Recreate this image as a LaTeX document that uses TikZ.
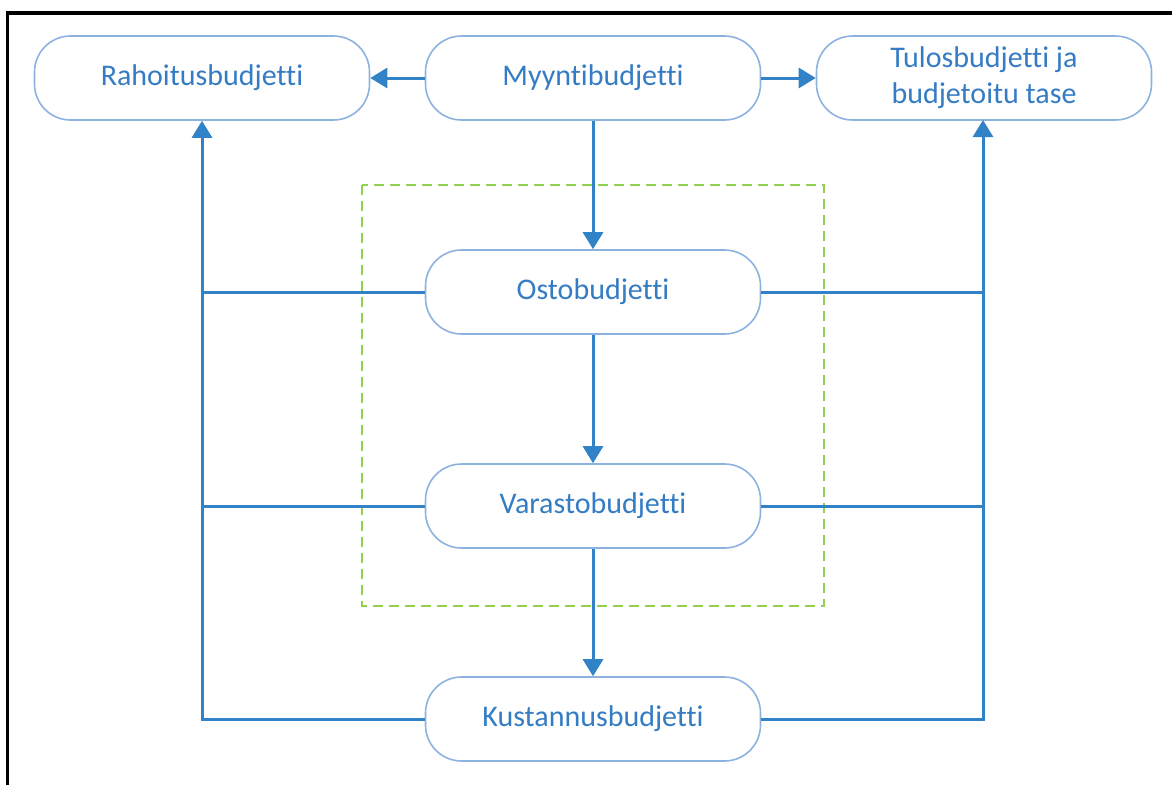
\documentclass[tikz,border=0pt]{standalone}
\usepackage{fontspec}
\setmainfont[RawFeature={-liga}]{Carlito}
\usetikzlibrary{arrows.meta}
\definecolor{txtblue}{RGB}{52,124,196}
\definecolor{edgeblue}{RGB}{141,178,224}
\definecolor{lineblue}{RGB}{50,130,200}
\definecolor{dashgreen}{RGB}{146,208,80}
\begin{document}
\begin{tikzpicture}[x=1pt,y=-1pt,
  budget/.style={draw=edgeblue,line width=1.6pt,fill=white,rounded corners=36pt,
    minimum width=335pt,minimum height=84pt,inner sep=0pt,text=txtblue,
    align=center,font=\fontsize{30}{36}\selectfont},
  flow/.style={draw=lineblue,line width=3pt},
  flowarrow/.style={flow,-{Triangle[width=20pt,length=17pt]}}]
  \useasboundingbox (0,0) rectangle (1172,785);
  % outer frame (top and left edges)
  \draw[line width=4pt,black] (7.5,13) -- (1172,13);
  \draw[line width=3pt,black] (7.5,11) -- (7.5,785);
  % dashed group around purchasing and inventory
  \draw[dashgreen,line width=2.5pt,dash pattern=on 10pt off 6pt] (362,185) rectangle (824,606);
  % budget boxes
  \node[budget] (rah) at (202,78) {Rahoitusbudjetti};
  \node[budget] (myy) at (593,78) {Myyntibudjetti};
  \node[budget] (tul) at (984,78) {Tulosbudjetti ja\\budjetoitu tase};
  \node[budget] (osto) at (593,292) {Ostobudjetti};
  \node[budget] (var) at (593,506) {Varastobudjetti};
  \node[budget] (kus) at (593,719) {Kustannusbudjetti};
  % side collectors
  \coordinate (lo) at (202,719);
  \coordinate (ro) at (983,719);
  \coordinate (l1) at (202,292);
  \coordinate (l2) at (202,506);
  \coordinate (r1) at (983,292);
  \coordinate (r2) at (983,506);
  % flows
  \draw[flowarrow] (myy.west) -- (rah.east);
  \draw[flowarrow] (myy.east) -- (tul.west);
  \draw[flowarrow] (myy.south) -- (osto.north);
  \draw[flowarrow] (osto.south) -- (var.north);
  \draw[flowarrow] (var.south) -- (kus.north);
  \draw[flowarrow] (kus.west) -- (lo) -- (rah.south);
  \draw[flowarrow] (kus.east) -- (ro) -- (983,120);
  \draw[flow] (osto.west) -- (l1);
  \draw[flow] (var.west) -- (l2);
  \draw[flow] (osto.east) -- (r1);
  \draw[flow] (var.east) -- (r2);
\end{tikzpicture}
\end{document}
